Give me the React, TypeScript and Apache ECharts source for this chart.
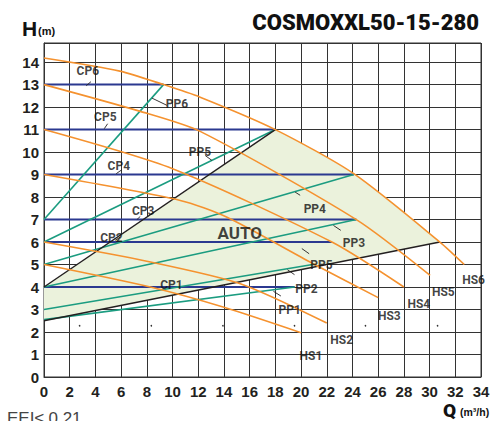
import React, { useEffect, useRef } from "react";
import * as echarts from "echarts";

// ---- data (Q in m3/h, H in m) ----
const HS6 = [[0, 14.18], [5.9, 13.6], [9.3, 13.0], [12.15, 12.44], [18, 11.0], [24.1, 9.04], [30.8, 6.0], [32.7, 5.0]];
const HS5 = [[0, 13.0], [7.49, 11.81], [12.15, 10.92], [24.3, 7.0], [30.04, 4.52]];
const HS4 = [[0, 11.0], [10, 9.26], [22.4, 6.0], [28, 4.0]];
const HS3 = [[0, 9.0], [10.6, 7.85], [14.2, 7.11], [20.9, 5.05], [26, 3.53]];
const HS2 = [[0, 6.0], [8, 5.15], [15.27, 4.15], [22, 2.4]];
const HS1 = [[0, 5.0], [8.27, 4.0], [14, 3.1], [20, 1.97]];

const CP6 = [[0, 13], [9.3, 13]];
const CP5 = [[0, 11], [18, 11]];
const CP4 = [[0, 9], [24.1, 9]];
const CP3 = [[0, 7], [24.3, 7]];
const CP2 = [[0, 6], [22.4, 6]];
const CP1 = [[0, 4], [19.5, 4]];

const PP6 = [[0, 7], [9.3, 13]];
const PP5 = [[0, 6], [18, 11]];
const PP4 = [[0, 5], [24.1, 9]];
const PP3 = [[0, 4], [24.3, 7]];
const PP2 = [[0, 3], [20.9, 5.0]];
const PP1 = [[0, 2.55], [19.5, 4.0]];

const AUTO_UPPER = [[0, 4], [18, 11]];
const AUTO_LOWER = [[0, 2.5], [30.8, 6]];
const AUTO_ZONE = [[0, 4], [18, 11], [21, 10.1], [24.1, 9.04], [27.5, 7.6], [30.8, 6.0], [0, 2.5]];

const LABELS = [
  { name: "CP6", value: [3.41, 13.6] },
  { name: "CP5", value: [4.77, 11.56] },
  { name: "CP4", value: [5.82, 9.36] },
  { name: "CP3", value: [7.72, 7.38] },
  { name: "CP2", value: [5.25, 6.18] },
  { name: "CP1", value: [9.91, 4.08] },
  { name: "PP6", value: [10.34, 12.15] },
  { name: "PP5", value: [12.13, 10.0] },
  { name: "PP4", value: [21.07, 7.48] },
  { name: "PP3", value: [24.11, 5.96] },
  { name: "PP5", value: [21.59, 4.96] },
  { name: "PP2", value: [20.41, 3.91] },
  { name: "PP1", value: [19.11, 2.96] },
  { name: "HS1", value: [20.77, 0.93] },
  { name: "HS2", value: [23.16, 1.63] },
  { name: "HS3", value: [26.87, 2.7] },
  { name: "HS4", value: [29.16, 3.23] },
  { name: "HS5", value: [31.07, 3.78] },
  { name: "HS6", value: [33.42, 4.3] },
];
const AUTO_LABEL = [{ name: "AUTO", value: [15.23, 6.41] }];

const LEADERS = [
  [[3.29, 12.95], [3.65, 13.13]],
  [[4.69, 11.04], [4.95, 11.26]],
  [[5.62, 9.04], [6.07, 9.22]],
  [[7.23, 7.0], [7.49, 7.14]],
  [[5.54, 6.08], [5.93, 6.22]],
  [[8.4, 12.4], [9.56, 12.08]],
  [[12.54, 9.85], [13.06, 9.63]],
  [[19.54, 8.22], [19.93, 8.08]],
  [[22.52, 6.74], [23.09, 6.52]],
  [[20.06, 5.71], [20.63, 5.48]],
  [[18.94, 4.77], [19.49, 4.55]],
  [[17.85, 3.81], [18.43, 3.6]],
];

const DOTS = [[2.77, 2.28], [8.35, 2.28], [13.92, 2.28], [19.49, 2.28], [25.01, 2.28], [30.62, 2.28]];

const ORANGE = "#F5922F";
const TEAL = "#1B9C80";
const BLUE = "#2B3990";
const BLACK = "#231F20";

function lineSeries(data: number[][], color: string, width: number, smooth = false, z = 3) {
  return {
    type: "line",
    data,
    showSymbol: false,
    smooth: smooth ? 0.25 : false,
    lineStyle: { color, width },
    z,
    silent: true,
  };
}

export default function App() {
  const ref = useRef<HTMLDivElement>(null);
  useEffect(() => {
    if (!ref.current) return;
    const chart = echarts.init(ref.current, null, { renderer: "svg" });
    const axisFont = { fontFamily: "Liberation Sans", fontWeight: "bold", fontSize: 15, color: BLACK };
    chart.setOption({
      animation: false,
      backgroundColor: "#ffffff",
      grid: { left: 44, right: 21, top: 43, bottom: 44, show: true, borderColor: "#333", borderWidth: 1 },
      xAxis: {
        type: "value",
        min: 0,
        max: 34,
        interval: 2,
        axisLine: { show: true, lineStyle: { color: "#333", width: 1 } },
        axisTick: { show: false },
        axisLabel: { ...axisFont, margin: 7 },
        splitLine: { show: true, lineStyle: { color: "#333", width: 1 } },
      },
      yAxis: {
        type: "value",
        min: 0,
        max: 14.85,
        interval: 1,
        axisLine: { show: true, lineStyle: { color: "#333", width: 1 } },
        axisTick: { show: false },
        axisLabel: {
          ...axisFont,
          margin: 5,
          formatter: (v: number) => (Math.abs(v - Math.round(v)) < 1e-6 ? String(Math.round(v)) : ""),
        },
        splitLine: { show: true, lineStyle: { color: "#333", width: 1 } },
      },
      series: [
        {
          type: "custom",
          data: [[0, 0]],
          z: 1,
          silent: true,
          renderItem: (params: any, api: any) => {
            const pts = AUTO_ZONE.map((p) => api.coord(p));
            return { type: "polygon", shape: { points: pts }, style: { fill: "#EBF2DC" } };
          },
        },
        lineSeries(CP6, BLUE, 2),
        lineSeries(CP5, BLUE, 2),
        lineSeries(CP4, BLUE, 2),
        lineSeries(CP3, BLUE, 2),
        lineSeries(CP2, BLUE, 2),
        lineSeries(CP1, BLUE, 2),
        lineSeries(PP6, TEAL, 1.6),
        lineSeries(PP5, TEAL, 1.6),
        lineSeries(PP4, TEAL, 1.6),
        lineSeries(PP3, TEAL, 1.6),
        lineSeries(PP2, TEAL, 1.6),
        lineSeries(PP1, TEAL, 1.6),
        lineSeries(AUTO_UPPER, BLACK, 1.4),
        lineSeries(AUTO_LOWER, BLACK, 1.4),
        lineSeries(HS6, ORANGE, 1.6, true, 4),
        lineSeries(HS5, ORANGE, 1.6, true, 4),
        lineSeries(HS4, ORANGE, 1.6, true, 4),
        lineSeries(HS3, ORANGE, 1.6, true, 4),
        lineSeries(HS2, ORANGE, 1.6, true, 4),
        lineSeries(HS1, ORANGE, 1.6, true, 4),
        {
          type: "lines",
          coordinateSystem: "cartesian2d",
          data: LEADERS.map((c) => ({ coords: c })),
          lineStyle: { color: BLACK, width: 0.9, opacity: 1 },
          z: 5,
          silent: true,
        },
        {
          type: "scatter",
          data: DOTS,
          symbolSize: 1.6,
          itemStyle: { color: "#000" },
          z: 5,
          silent: true,
        },
        {
          type: "scatter",
          data: LABELS,
          symbolSize: 0,
          z: 6,
          silent: true,
          label: {
            show: true,
            position: "inside",
            formatter: "{b}",
            fontFamily: "Roboto",
            fontWeight: "bold",
            fontSize: 12,
            color: "#111",
          },
          labelLayout: { hideOverlap: false },
        },
        {
          type: "scatter",
          data: AUTO_LABEL,
          symbolSize: 0,
          z: 6,
          silent: true,
          label: {
            show: true,
            position: "inside",
            formatter: "{b}",
            fontFamily: "Roboto",
            fontWeight: "bold",
            fontSize: 17,
            color: "#111",
          },
        },
      ],
      graphic: [
        {
          type: "text",
          left: 22,
          top: 18,
          style: { text: "H", font: "bold 21px 'Liberation Sans'", fill: "#111" },
        },
        {
          type: "text",
          left: 38,
          top: 25,
          style: { text: "(m)", font: "bold 11px 'Liberation Sans'", fill: "#111" },
        },
        {
          type: "text",
          right: 23,
          top: 11,
          style: { text: "COSMOXXL50-15-280", font: "900 22px Roboto", fill: "#111" },
        },
        {
          type: "text",
          left: 443,
          top: 401,
          style: { text: "Q", font: "900 19px Roboto", fill: "#111" },
        },
        {
          type: "text",
          left: 460,
          top: 406,
          style: { text: "(m³/h)", font: "bold 10.5px 'Liberation Sans'", fill: "#111" },
        },
        {
          type: "text",
          left: 7,
          top: 410,
          style: { text: "EEI≤ 0.21", font: "17px 'Liberation Sans'", fill: "#444" },
        },
      ],
    });
    return () => chart.dispose();
  }, []);
  return (
    <div
      ref={ref}
      style={{ position: "fixed", left: 0, top: 0, width: 502, height: 421, background: "#fff" }}
    />
  );
}
